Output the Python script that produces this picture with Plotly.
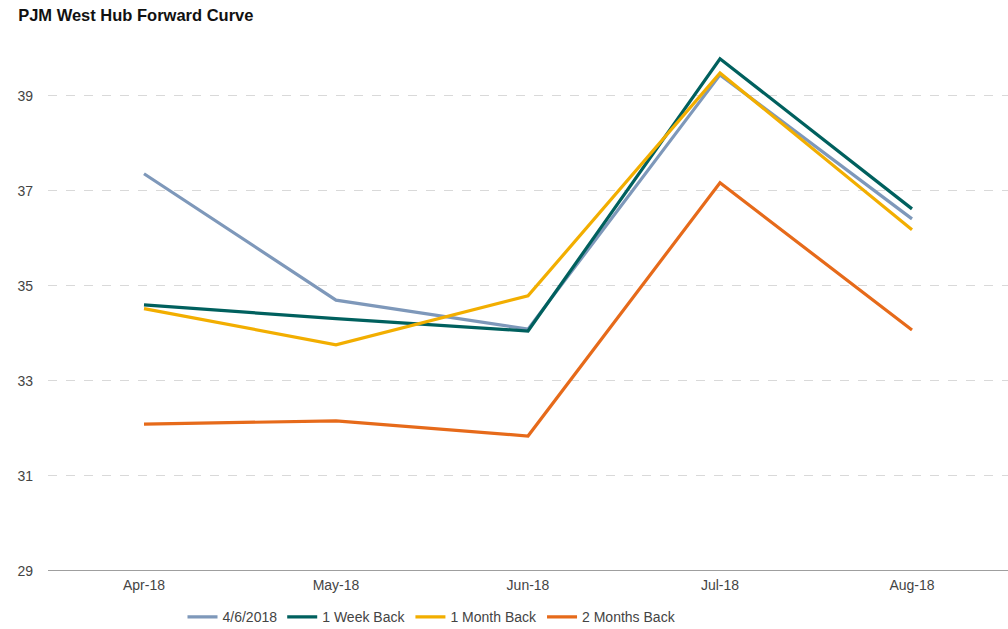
import plotly.graph_objects as go

months = ["Apr-18", "May-18", "Jun-18", "Jul-18", "Aug-18"]
s_current = [37.36, 34.70, 34.09, 39.44, 36.41]
s_week = [34.60, 34.31, 34.05, 39.78, 36.62]
s_month = [34.52, 33.76, 34.79, 39.48, 36.18]
s_2month = [32.09, 32.16, 31.84, 37.17, 34.07]
names = ["4/6/2018", "1 Week Back", "1 Month Back", "2 Months Back"]
colors = ["#7E98BA", "#00605E", "#F2AE00", "#E66A1A"]
y_ticks = [29, 31, 33, 35, 37, 39]

FONT = "Liberation Sans, Arial, sans-serif"

fig = go.Figure()
for nm, vals, c in zip(names, [s_current, s_week, s_month, s_2month], colors):
    fig.add_trace(go.Scatter(x=months, y=vals, name=nm, mode="lines",
                             line=dict(color=c, width=3.2)))

fig.update_layout(
    width=1008, height=629,
    margin=dict(l=48, r=0, t=34, b=58, autoexpand=False),
    plot_bgcolor="white", paper_bgcolor="white",
    font=dict(family=FONT, size=14, color="#444444"),
    title=dict(text="<b>PJM West Hub Forward Curve</b>", x=0.018, xanchor="left",
               y=0.976, yanchor="middle",
               font=dict(family=FONT, size=16.5, color="#111111")),
    xaxis=dict(range=[-0.5, 4.5], showgrid=False, showline=False, ticks="", zeroline=False,
               tickfont=dict(size=14, color="#444444"), ticklabelstandoff=4),
    yaxis=dict(range=[29, 40.3], tickvals=y_ticks, showgrid=True,
               gridcolor="#d9d9d9", griddash="dash", gridwidth=1,
               zeroline=False, showline=False, ticks="",
               tickfont=dict(size=14, color="#444444"), ticklabelstandoff=14),
    legend=dict(orientation="h", x=0.40, xanchor="center", y=-0.086, yanchor="middle",
                font=dict(size=14, color="#444444"), itemwidth=30, tracegroupgap=0),
    showlegend=True,
)
fig.add_shape(type="line", xref="paper", yref="y", x0=0, x1=1, y0=29, y1=29,
              line=dict(color="#7f7f7f", width=1.5))

fig.write_html("out.html")
